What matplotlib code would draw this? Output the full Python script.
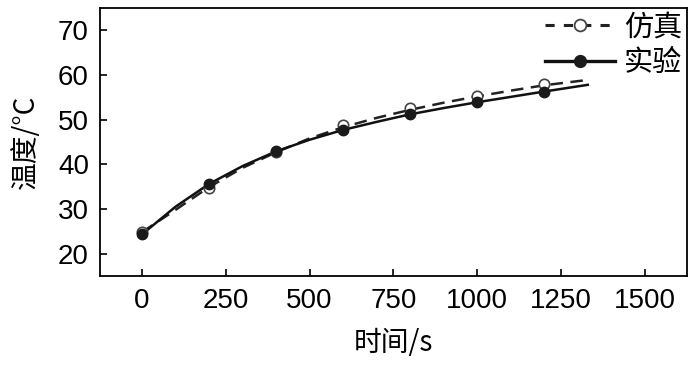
import matplotlib
matplotlib.use("Agg")
import matplotlib.pyplot as plt

plt.rcParams['font.family'] = ['Noto Sans CJK SC', 'DejaVu Sans']

# 测点数据
t_pts = [0, 200, 400, 600, 800, 1000, 1200]
sim_pts = [24.9, 34.8, 42.8, 48.7, 52.5, 55.4, 57.9]
exp_pts = [24.3, 35.7, 42.9, 47.6, 51.2, 53.9, 56.3]

# 拟合曲线
t_curve = [0, 100, 200, 300, 400, 500, 600, 700, 800, 900, 1000, 1100, 1200, 1330]
sim_curve = [24.8, 29.8, 34.9, 39.2, 42.7, 45.8, 48.3, 50.4, 52.2, 53.8, 55.2, 56.5, 57.7, 58.9]
exp_curve = [24.3, 30.5, 35.6, 39.6, 42.9, 45.5, 47.7, 49.5, 51.2, 52.6, 53.9, 55.1, 56.3, 57.8]

xticks = [0, 250, 500, 750, 1000, 1250, 1500]
yticks = [20, 30, 40, 50, 60, 70]

fig = plt.figure(figsize=(6.95, 3.65), dpi=100)
ax = fig.add_axes([0.144, 0.244, 0.844, 0.734])

ax.plot(t_curve, sim_curve, '--', c='#222222', lw=1.8, dashes=(5, 3))
ax.plot(t_curve, exp_curve, '-', c='#111111', lw=1.8)
ax.plot(t_pts, sim_pts, 'o', mfc='white', mec='#444444', mew=1.2, ms=7.5)
ax.plot(t_pts, exp_pts, 'o', mfc='#1a1a1a', mec='#1a1a1a', ms=7.5)

# 图例句柄
h1, = ax.plot([], [], '--', c='#222222', lw=2.2, dashes=(3, 3), marker='o',
              mfc='white', mec='#444444', mew=1.3, ms=8.5)
h2, = ax.plot([], [], '-', c='#111111', lw=2.4, marker='o',
              mfc='#1a1a1a', mec='#1a1a1a', ms=8.5)
ax.legend([h1, h2], ['仿真', '实验'], loc='upper right', frameon=False,
          prop={'family': 'Noto Sans CJK SC', 'size': 21}, handlelength=2.4,
          handletextpad=0.3, labelspacing=0.2, borderaxespad=0.0,
          borderpad=0.15)

ax.set_xlim(-125, 1625)
ax.set_ylim(15, 75)
ax.set_xticks(xticks)
ax.set_yticks(yticks)
ax.tick_params(direction='in', length=5, width=1.2, labelsize=20)
ax.tick_params(axis='x', pad=9)
ax.tick_params(axis='y', pad=8)
for lab in ax.get_xticklabels() + ax.get_yticklabels():
    lab.set_family('Liberation Sans')
for s in ax.spines.values():
    s.set_linewidth(1.3)

ax.set_xlabel('时间/s', fontsize=20, labelpad=10)
ax.set_ylabel('温度/°C', fontsize=20, labelpad=12)

fig.savefig('out.png', dpi=100)
